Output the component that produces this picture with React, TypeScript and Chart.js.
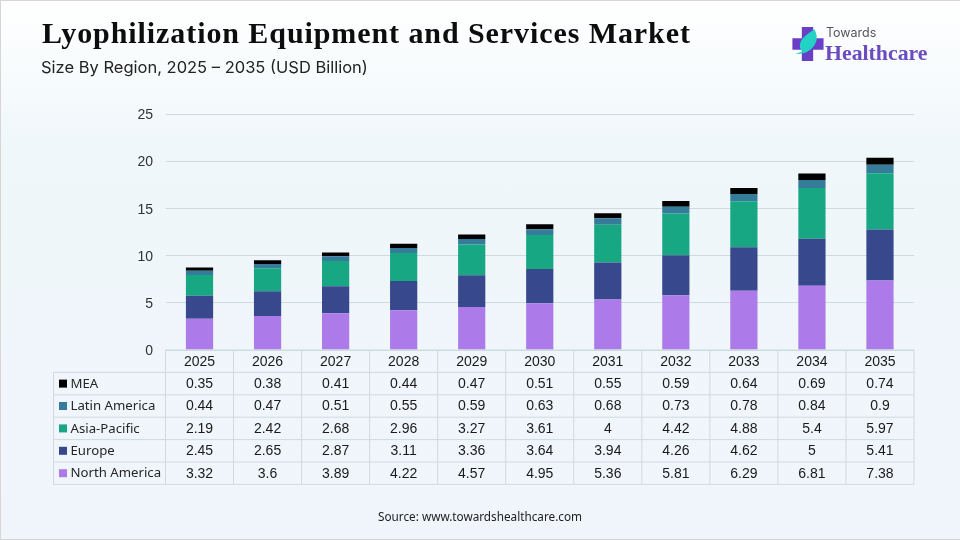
import React, { useEffect, useRef } from "react";
import { Chart, registerables } from "chart.js";

Chart.register(...registerables);

const years = ["2025", "2026", "2027", "2028", "2029", "2030", "2031", "2032", "2033", "2034", "2035"];
const northAmerica = [3.32, 3.6, 3.89, 4.22, 4.57, 4.95, 5.36, 5.81, 6.29, 6.81, 7.38];
const europe = [2.45, 2.65, 2.87, 3.11, 3.36, 3.64, 3.94, 4.26, 4.62, 5, 5.41];
const asiaPacific = [2.19, 2.42, 2.68, 2.96, 3.27, 3.61, 4, 4.42, 4.88, 5.4, 5.97];
const latinAmerica = [0.44, 0.47, 0.51, 0.55, 0.59, 0.63, 0.68, 0.73, 0.78, 0.84, 0.9];
const mea = [0.35, 0.38, 0.41, 0.44, 0.47, 0.51, 0.55, 0.59, 0.64, 0.69, 0.74];

const regions = ["North America", "Europe", "Asia-Pacific", "Latin America", "MEA"];
const regionValues = [northAmerica, europe, asiaPacific, latinAmerica, mea];
const regionColors = ["#ad7be9", "#37498c", "#17a883", "#347c99", "#000000"];

const GRID = "#cfdadd";
const ROW_H = 22.4;
const LABEL_LEFT = 53.5;

// data table under the plot, columns follow the x scale
const tablePlugin = {
  id: "dataTable",
  afterDraw(chart: Chart) {
    const { ctx, chartArea, scales } = chart;
    const x = scales.x;
    const top = chartArea.bottom;
    const colW = (chartArea.right - chartArea.left) / years.length;
    const rows = regions.length;

    ctx.save();
    ctx.strokeStyle = GRID;
    ctx.lineWidth = 1;
    ctx.beginPath();
    // header lines
    ctx.moveTo(chartArea.left, top);
    ctx.lineTo(chartArea.right, top);
    for (let r = 1; r <= rows + 1; r++) {
      const y = top + r * ROW_H;
      ctx.moveTo(LABEL_LEFT, y);
      ctx.lineTo(chartArea.right, y);
    }
    ctx.moveTo(LABEL_LEFT, top + ROW_H);
    ctx.lineTo(LABEL_LEFT, top + (rows + 1) * ROW_H);
    for (let c = 0; c <= years.length; c++) {
      const cx = chartArea.left + c * colW;
      ctx.moveTo(cx, top);
      ctx.lineTo(cx, top + (rows + 1) * ROW_H);
    }
    ctx.stroke();

    ctx.textBaseline = "middle";
    ctx.textAlign = "center";
    ctx.fillStyle = "#1a1a1a";
    ctx.font = "14px 'Liberation Sans'";
    years.forEach((year, i) => {
      ctx.fillText(year, x.getPixelForValue(i), top + ROW_H / 2 + 0.5);
    });

    // rows run top to bottom in reverse stacking order
    for (let r = 0; r < rows; r++) {
      const idx = rows - 1 - r;
      const cy = top + (r + 1.5) * ROW_H + 0.5;
      ctx.textAlign = "center";
      ctx.fillStyle = "#1a1a1a";
      ctx.font = "14px 'Liberation Sans'";
      regionValues[idx].forEach((v, i) => {
        ctx.fillText(String(v), x.getPixelForValue(i), cy);
      });
      ctx.fillStyle = regionColors[idx];
      ctx.fillRect(59, cy - 4.5, 8, 8);
      ctx.textAlign = "left";
      ctx.fillStyle = "#262626";
      ctx.font = "13.2px 'Noto Sans'";
      ctx.fillText(regions[idx], 70.5, cy);
    }
    ctx.restore();
  },
};

function Logo() {
  return (
    <div style={{ position: "absolute", left: 790, top: 24, width: 150, height: 42 }}>
      <svg width="33" height="34" viewBox="0 0 34 36" style={{ position: "absolute", left: 0, top: 2 }}>
        <path d="M11 0h12v12h11v12H23v12H11V24H1V12h10z" fill="#6a3fc8" />
        <path d="M4 28C12 30 22 26 26 16C28 11 26 5 24 2C20 6 13 9 10 15C8 20 9 24 12 26C9 27 6 28 4 28z" fill="#22d3c5" />
      </svg>
      <div style={{ position: "absolute", left: 35, top: 0, font: "12.5px Inter, sans-serif", color: "#555", whiteSpace: "nowrap" }}>Towards</div>
      <div style={{ position: "absolute", left: 34, top: 16, font: "bold 21.8px 'Liberation Serif', serif", color: "#6a4cc0", whiteSpace: "nowrap" }}>Healthcare</div>
    </div>
  );
}

export default function App() {
  const canvasRef = useRef<HTMLCanvasElement | null>(null);

  useEffect(() => {
    document.body.style.margin = "0";
    const ctx = canvasRef.current?.getContext("2d");
    if (!ctx) return;

    const chart = new Chart(ctx, {
      type: "bar",
      data: {
        labels: years,
        datasets: regions.map((name, i) => ({
          label: name,
          data: regionValues[i],
          backgroundColor: regionColors[i],
          barPercentage: 0.4,
          categoryPercentage: 1,
        })),
      },
      options: {
        responsive: false,
        animation: false,
        layout: { padding: { left: 0, right: 46, top: 114.5, bottom: 190 } },
        plugins: { legend: { display: false }, tooltip: { enabled: false } },
        scales: {
          x: { stacked: true, display: false },
          y: {
            stacked: true,
            min: 0,
            max: 25,
            afterFit: (scale: any) => {
              scale.width = 165.5;
            },
            border: { display: false },
            grid: { color: GRID, drawTicks: false },
            ticks: {
              stepSize: 5,
              padding: 12.5,
              labelOffset: 1,
              color: "#333333",
              font: { family: "'Liberation Sans'", size: 14 },
            },
          },
        },
      },
      plugins: [tablePlugin],
    });

    return () => chart.destroy();
  }, []);

  return (
    <div
      style={{
        position: "relative",
        width: 960,
        height: 540,
        overflow: "hidden",
        boxSizing: "border-box",
        borderTop: "1px solid #d6d6d6",
        borderLeft: "1px solid #d6d6d6",
        borderBottom: "1px solid #d6d6d6",
        background: "linear-gradient(180deg, #ffffff 0%, #eff7fa 28%, #f0f5fb 100%)",
      }}
    >
      <canvas ref={canvasRef} width={960} height={540} style={{ position: "absolute", left: -1, top: -1 }} />
      <div style={{ position: "absolute", left: 41, top: 15, font: "bold 30px 'Liberation Serif', serif", letterSpacing: 0.92, color: "#0d0d0d", whiteSpace: "nowrap" }}>
        Lyophilization Equipment and Services Market
      </div>
      <div style={{ position: "absolute", left: 40, top: 56, font: "16.5px Inter, sans-serif", color: "#222", whiteSpace: "nowrap" }}>
        Size By Region, 2025 – 2035 (USD Billion)
      </div>
      <Logo />
      <div style={{ position: "absolute", left: 377, top: 507, font: "11.75px 'Noto Sans', sans-serif", color: "#222", whiteSpace: "nowrap" }}>
        Source: www.towardshealthcare.com
      </div>
    </div>
  );
}
